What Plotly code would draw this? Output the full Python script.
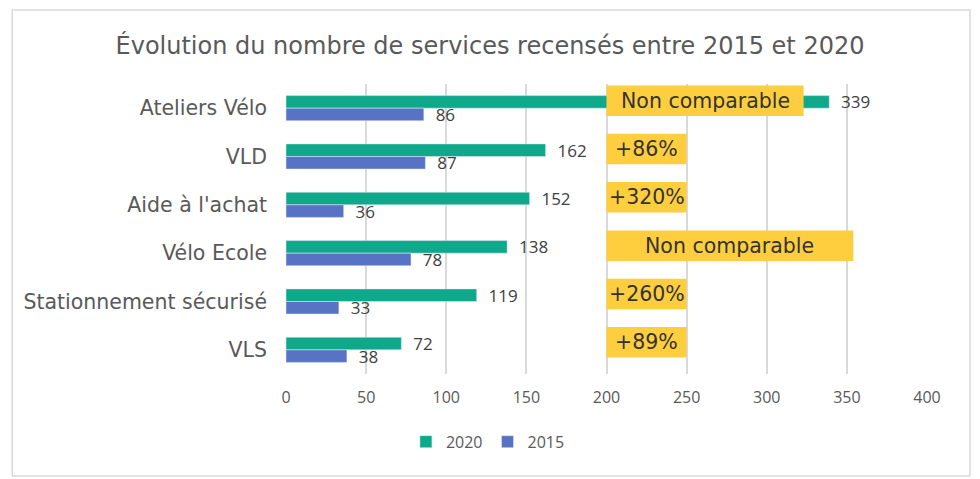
import plotly.graph_objects as go

categories = ["Ateliers Vélo", "VLD", "Aide à l'achat", "Vélo Ecole", "Stationnement sécurisé", "VLS"]
values_2020 = [339, 162, 152, 138, 119, 72]
values_2015 = [86, 87, 36, 78, 33, 38]
box_labels = ["Non comparable", "+86%", "+320%", "Non comparable", "+260%", "+89%"]
box_end = [323, 250, 250, 354, 250, 250]
box_start = 200
x_ticks = [0, 50, 100, 150, 200, 250, 300, 350, 400]

GREEN = "#0FA88A"
BLUE = "#5873C4"
YELLOW = "#FFCE3F"
WIDE = "DejaVu Sans"
NUM = "Open Sans"

fig = go.Figure()
fig.add_trace(go.Bar(
    y=categories, x=values_2020, name="2020", orientation="h",
    marker_color=GREEN, text=values_2020, texttemplate="  %{x}",
    textposition="outside", cliponaxis=False, constraintext="none",
    textfont=dict(size=17, color="#404040", family=NUM),
))
fig.add_trace(go.Bar(
    y=categories, x=values_2015, name="2015", orientation="h",
    marker_color=BLUE, text=values_2015, texttemplate="  %{x}",
    textposition="outside", cliponaxis=False, constraintext="none",
    textfont=dict(size=17, color="#404040", family=NUM),
))

shapes = [dict(type="rect", xref="paper", yref="paper", x0=-0.427, x1=1.067, y0=-0.352, y1=1.255,
               line=dict(color="#D9D9D9", width=1.5), fillcolor="rgba(0,0,0,0)", layer="below")]
annotations = []
for i, (lab, end) in enumerate(zip(box_labels, box_end)):
    shapes.append(dict(type="rect", xref="x", yref="y", x0=box_start, x1=end,
                       y0=i - 0.47, y1=i + 0.16, fillcolor=YELLOW, line=dict(width=0), layer="above"))
    annotations.append(dict(x=(box_start + end) / 2, y=i - 0.155, xref="x", yref="y", text=lab,
                            showarrow=False, font=dict(size=20.5, color="#333333", family=WIDE)))

fig.update_layout(
    width=980, height=479,
    margin=dict(l=286, r=53, t=84, b=105),
    paper_bgcolor="white", plot_bgcolor="white",
    barmode="group", bargap=0.48, bargroupgap=0,
    title=dict(text="Évolution du nombre de services recensés entre 2015 et 2020",
               x=0.5, xanchor="center", y=0.905, yanchor="middle",
               font=dict(size=24, color="#595959", family=WIDE)),
    xaxis=dict(range=[0, 400], tickvals=x_ticks, showgrid=True, gridcolor="#D9D9D9", gridwidth=1.5,
               zeroline=False, showline=False, ticks="", ticklabelstandoff=12,
               tickfont=dict(size=16, color="#595959", family=NUM)),
    yaxis=dict(autorange="reversed", showgrid=False, showline=False, ticks="",
               ticklabelstandoff=18,
               tickfont=dict(size=20.5, color="#595959", family=WIDE)),
    legend=dict(orientation="h", x=0.315, xanchor="center", y=-0.175, yanchor="top",
                font=dict(size=16, color="#595959", family=NUM), traceorder="normal",
                itemwidth=30),
    shapes=shapes, annotations=annotations,
)

fig.write_html("out.html")
